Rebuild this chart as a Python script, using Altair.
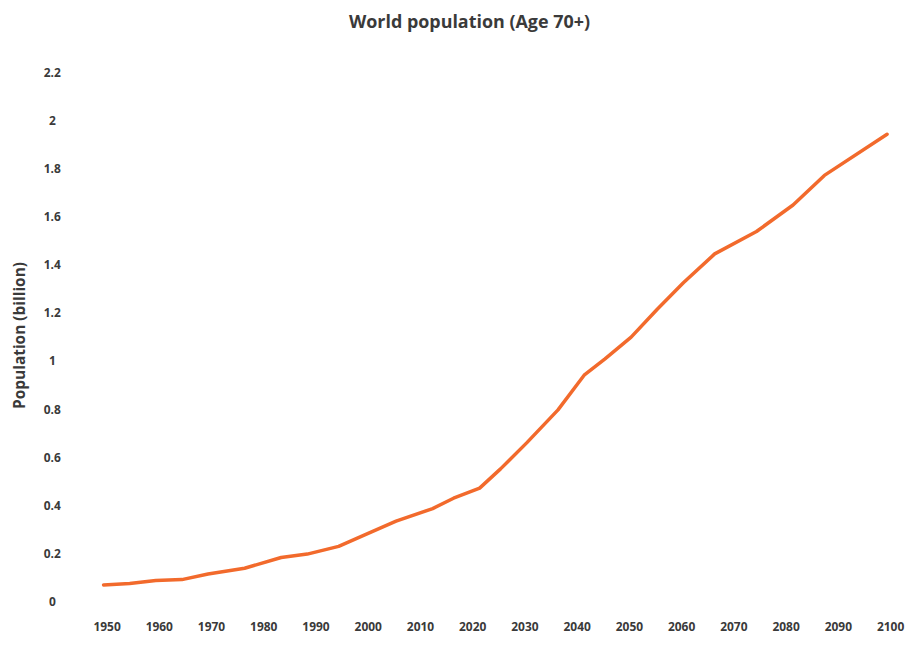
import altair as alt
import pandas as pd

years = [1950, 1955, 1960, 1965, 1970, 1977, 1984, 1989, 1995, 2000, 2006, 2013,
         2017, 2022, 2026, 2031, 2037, 2042, 2046, 2051, 2056, 2061, 2067, 2075,
         2082, 2088, 2100]
population_billion = [0.070, 0.076, 0.088, 0.092, 0.115, 0.139, 0.184, 0.198, 0.230,
                      0.278, 0.335, 0.387, 0.430, 0.472, 0.552, 0.660, 0.797, 0.941,
                      1.009, 1.099, 1.215, 1.325, 1.445, 1.538, 1.648, 1.771, 1.942]
x_ticks = list(range(1950, 2101, 10))
y_ticks = [0, 0.2, 0.4, 0.6, 0.8, 1, 1.2, 1.4, 1.6, 1.8, 2, 2.2]

df = pd.DataFrame({"year": years, "pop": population_billion})

FONT = "Open Sans"
TXT = "#3a3a3a"

chart = (
    alt.Chart(df)
    .mark_line(color="#F26A2C", strokeWidth=3.5, strokeCap="round", strokeJoin="round")
    .encode(
        x=alt.X(
            "year:Q",
            scale=alt.Scale(domain=[1950, 2100], nice=False, zero=False),
            axis=alt.Axis(
                values=x_ticks, format="d", title=None, grid=False, domain=False,
                ticks=False, tickSize=0, labelPadding=20, labelOffset=3,
                labelFont=FONT, labelFontWeight="bold", labelFontSize=12,
                labelColor=TXT, labelFlush=False,
            ),
        ),
        y=alt.Y(
            "pop:Q",
            scale=alt.Scale(domain=[0, 2.2], nice=False),
            axis=alt.Axis(
                values=y_ticks, format="~g", title="Population (billion)", grid=False,
                domain=False, ticks=False, tickSize=0, labelAlign="center",
                labelPadding=52,
                labelFont=FONT, labelFontWeight="bold", labelFontSize=12,
                labelColor=TXT, labelFlush=False,
                titleFont=FONT, titleFontWeight="bold", titleFontSize=15.5,
                titleColor=TXT, titleX=-84, titleY=264, titleBaseline="middle",
                titleAngle=270,
            ),
        ),
    )
    .properties(
        width=787,
        height=532,
        autosize=alt.AutoSizeParams(type="none"),
        padding={"left": 96, "top": 63, "right": 18, "bottom": 34},
        title=alt.TitleParams(
            "World population (Age 70+)", font=FONT, fontWeight="bold", fontSize=18,
            color=TXT, anchor="middle", dx=-26, offset=34,
        ),
    )
    .configure_view(stroke=None)
)

chart.save("out.html", embed_options={"renderer": "svg", "actions": False})
